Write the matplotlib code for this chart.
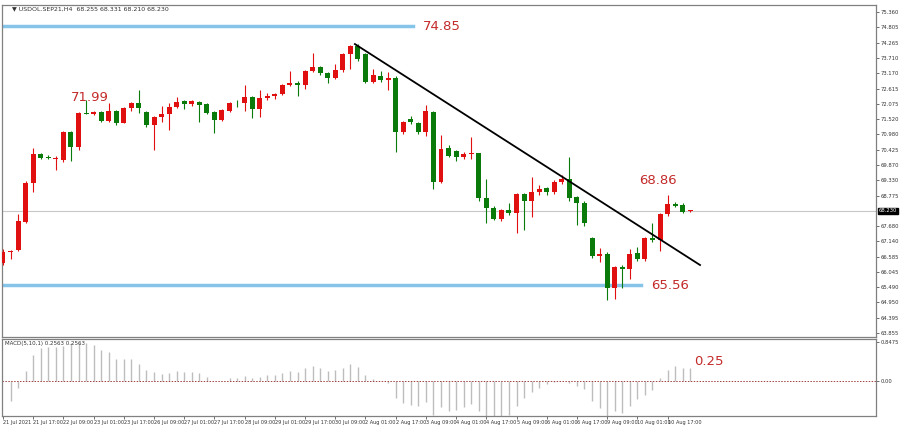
import matplotlib
matplotlib.use("Agg")
import matplotlib.pyplot as plt
import numpy as np

opens = [66.36,66.76,66.83,67.83,69.23,70.27,70.14,70.10,70.06,71.06,70.52,71.74,71.72,71.78,71.45,71.81,71.38,71.92,72.10,71.78,
         71.31,71.60,71.70,71.96,72.17,72.06,72.13,72.06,71.78,71.49,71.81,72.10,72.10,72.31,71.88,72.28,72.35,72.42,72.74,72.82,
         72.74,73.25,73.39,73.17,72.99,73.28,73.85,74.14,73.85,72.85,73.07,72.92,72.99,71.06,71.52,71.38,71.06,71.78,69.27,70.49,
         70.38,70.16,70.27,70.31,68.69,68.34,67.94,68.26,68.16,68.84,68.59,68.91,69.05,68.91,69.27,69.38,68.73,68.51,67.26,66.62,
         66.69,65.47,66.22,66.15,66.72,66.51,67.26,67.19,68.12,68.48,68.44,68.22]
closes = [66.76,66.79,67.87,69.23,70.27,70.13,70.12,70.13,71.06,70.52,71.74,71.72,71.76,71.45,71.81,71.38,71.92,72.10,71.92,71.31,
          71.60,71.70,71.96,72.13,72.06,72.17,72.03,71.74,71.49,71.85,72.10,72.08,72.31,71.88,72.28,72.35,72.42,72.74,72.82,72.74,
          73.25,73.39,73.17,72.99,73.28,73.85,74.14,73.68,72.85,73.10,72.92,72.99,71.06,71.42,71.42,71.06,71.81,69.27,70.45,70.20,
          70.16,70.27,70.31,68.69,68.34,67.94,68.26,68.16,68.84,68.59,68.91,69.02,68.91,69.27,69.38,68.69,68.51,67.80,66.62,66.69,
          65.47,66.22,66.15,66.69,66.51,67.26,67.19,68.12,68.48,68.41,68.19,68.23]
highs = [66.85,66.83,68.12,69.30,70.49,70.31,70.22,70.20,71.10,71.10,71.76,72.21,71.80,71.80,72.10,71.85,71.96,72.15,72.56,71.80,
         71.62,72.00,72.10,72.30,72.20,72.21,72.17,72.10,71.80,71.87,72.13,72.20,72.74,72.35,72.56,72.45,72.45,72.78,73.25,72.90,
         73.28,73.89,73.42,73.20,73.50,73.88,74.18,74.21,73.90,73.30,73.25,73.20,73.05,71.46,71.62,71.40,72.03,71.80,70.95,70.60,
         70.42,70.35,70.88,70.32,69.38,68.40,68.30,68.50,68.88,68.88,69.45,69.15,69.10,69.32,69.50,70.16,68.75,68.60,67.30,66.90,
         66.75,66.25,66.30,66.85,66.95,67.30,67.80,68.15,68.80,68.55,68.50,68.28]
lows = [66.30,66.50,66.78,67.80,68.90,70.08,70.08,69.70,70.00,70.02,70.40,71.70,71.65,71.40,71.40,71.30,71.38,71.80,71.75,71.25,
        70.41,71.40,71.13,71.92,71.90,72.00,71.42,71.70,71.02,71.45,71.78,71.95,71.80,71.56,71.60,72.20,72.25,72.38,72.70,72.35,
        72.60,73.20,73.10,72.82,72.95,73.20,73.30,73.62,72.80,72.80,72.85,72.55,70.34,71.00,71.35,71.00,70.90,69.02,69.23,70.15,
        70.02,70.10,70.10,68.60,67.80,67.90,67.88,68.10,67.44,67.55,68.00,68.80,68.80,68.85,69.20,68.60,67.73,67.70,66.55,66.40,
        65.04,65.08,65.47,65.80,66.45,66.45,67.10,66.80,68.05,68.38,68.15,68.20]
macd = [-0.43,-0.16,0.22,0.57,0.71,0.73,0.73,0.76,0.83,0.82,0.83,0.78,0.67,0.62,0.48,0.47,0.47,0.38,0.23,0.20,
        0.16,0.18,0.22,0.20,0.20,0.17,0.09,0.01,0.01,0.06,0.07,0.10,0.06,0.09,0.12,0.13,0.17,0.22,0.20,0.28,
        0.32,0.29,0.22,0.23,0.28,0.36,0.30,0.13,0.04,0.01,-0.04,-0.36,-0.47,-0.52,-0.54,-0.45,-0.73,-0.57,-0.65,-0.62,
        -0.57,-0.49,-0.65,-0.81,-0.80,-0.80,-0.73,-0.54,-0.36,-0.23,-0.15,-0.06,-0.02,-0.01,-0.04,-0.11,-0.18,-0.43,-0.58,-0.80,
        -0.65,-0.69,-0.54,-0.40,-0.30,-0.20,0.06,0.23,0.33,0.29,0.28]
xlabels = ["21 Jul 2021","21 Jul 17:00","22 Jul 09:00","23 Jul 01:00","23 Jul 17:00","26 Jul 09:00","27 Jul 01:00",
           "27 Jul 17:00","28 Jul 09:00","29 Jul 01:00","29 Jul 17:00","30 Jul 09:00","2 Aug 01:00","2 Aug 17:00",
           "3 Aug 09:00","4 Aug 01:00","4 Aug 17:00","5 Aug 09:00","6 Aug 01:00","6 Aug 17:00","9 Aug 09:00",
           "10 Aug 01:00","10 Aug 17:00"]
yticks = [75.360,74.805,74.265,73.710,73.170,72.615,72.075,71.520,70.980,70.425,69.870,69.330,68.775,
          67.680,67.140,66.585,66.045,65.490,64.950,64.395,63.855]
current = 68.230
resistance, support = 74.85, 65.56
trend = [(46.6, 74.21), (92.3, 66.29)]

W, H = 900, 434
fig = plt.figure(figsize=(9, 4.34), dpi=100)
def ax_px(l, t, r, b):
    return fig.add_axes([l/W, 1-b/H, (r-l)/W, (b-t)/H])
ax = ax_px(2, 5, 876, 337)
ax2 = ax_px(2, 339, 876, 416)
RED, GREEN = "#e01010", "#0a7a0a"
n = len(opens)
idx = np.arange(n)
for i in idx:
    o, c = opens[i], closes[i]
    col = RED if c >= o else GREEN
    ax.vlines(i, lows[i], highs[i], color=col, lw=0.8, zorder=3)
    hgt = max(abs(c-o), 0.025)
    ax.add_patch(plt.Rectangle((i-0.33, min(o, c)), 0.66, hgt, color=col, zorder=4, lw=0))
xl = (-0.13, 115.6)
ax.set_xlim(*xl); ax.set_ylim(63.71, 75.61)
ax.axhline(current, color="#c8c8c8", lw=0.8, zorder=1)
ax.plot([xl[0], 54.3], [resistance]*2, color="#87c4ea", lw=2.5, zorder=2)
ax.plot([xl[0], 84.5], [support]*2, color="#87c4ea", lw=2.5, zorder=2)
ax.plot([trend[0][0], trend[1][0]], [trend[0][1], trend[1][1]], color="black", lw=1.3, zorder=5)
tc = "#c42a2a"
ax.text(55.6, resistance, f"{resistance:.2f}", color=tc, fontsize=9.5, va="center")
ax.text(9.0, 72.05, "71.99", color=tc, fontsize=9.5, va="bottom")
ax.text(84.3, 69.1, "68.86", color=tc, fontsize=9.5, va="bottom")
ax.text(85.8, support, f"{support:.2f}", color=tc, fontsize=9.5, va="center")
ax.text(0.012, 0.995, "▼ USDOL.SEP21,H4  68.255 68.331 68.210 68.230", transform=ax.transAxes,
        fontsize=4.5, va="top", color="#333333")

ax2.set_xlim(*xl); ax2.set_ylim(-0.76, 0.913)
mx = np.arange(n-len(macd), n)
ax2.vlines(mx, 0, macd, color="#bdbdbd", lw=1.0)
ax2.axhline(0, color="#a04040", lw=0.7, ls=(0, (1.5, 1.5)))
ax2.text(91.5, 0.42, "0.25", color=tc, fontsize=9.5, va="center")
ax2.text(0.003, 0.97, "MACD(5,10,1) 0.2563 0.2563", transform=ax2.transAxes, fontsize=4.0, va="top", color="#333333")

for a in (ax, ax2):
    for s in a.spines.values():
        s.set_color("#808080"); s.set_linewidth(0.9)
    a.tick_params(axis="both", labelsize=3.8, length=2, width=0.5, pad=1, colors="#333333", direction="out")
    a.yaxis.tick_right()
ax.set_xticks([]); ax.set_yticks(yticks)
ax.set_yticklabels([f"{v:.3f}" for v in yticks])
ax.text(1.003, current, f"{current:.3f}", transform=ax.get_yaxis_transform(), fontsize=3.8,
        color="white", va="center", bbox=dict(boxstyle="square,pad=0.12", fc="black", ec="black"))
ax2.set_yticks([0.8475, 0.0, -0.8416])
ax2.set_ylim(-0.76, 0.913)
ax2.set_yticklabels(["0.8475", "0.00", "-0.8416"])
ax2.set_xticks(np.arange(0, 4*len(xlabels), 4))
ax2.set_xticklabels(xlabels, ha="left")
plt.setp(ax2.get_xticklabels(), fontsize=3.6)
fig.savefig("out.png", dpi=100, facecolor="white")
